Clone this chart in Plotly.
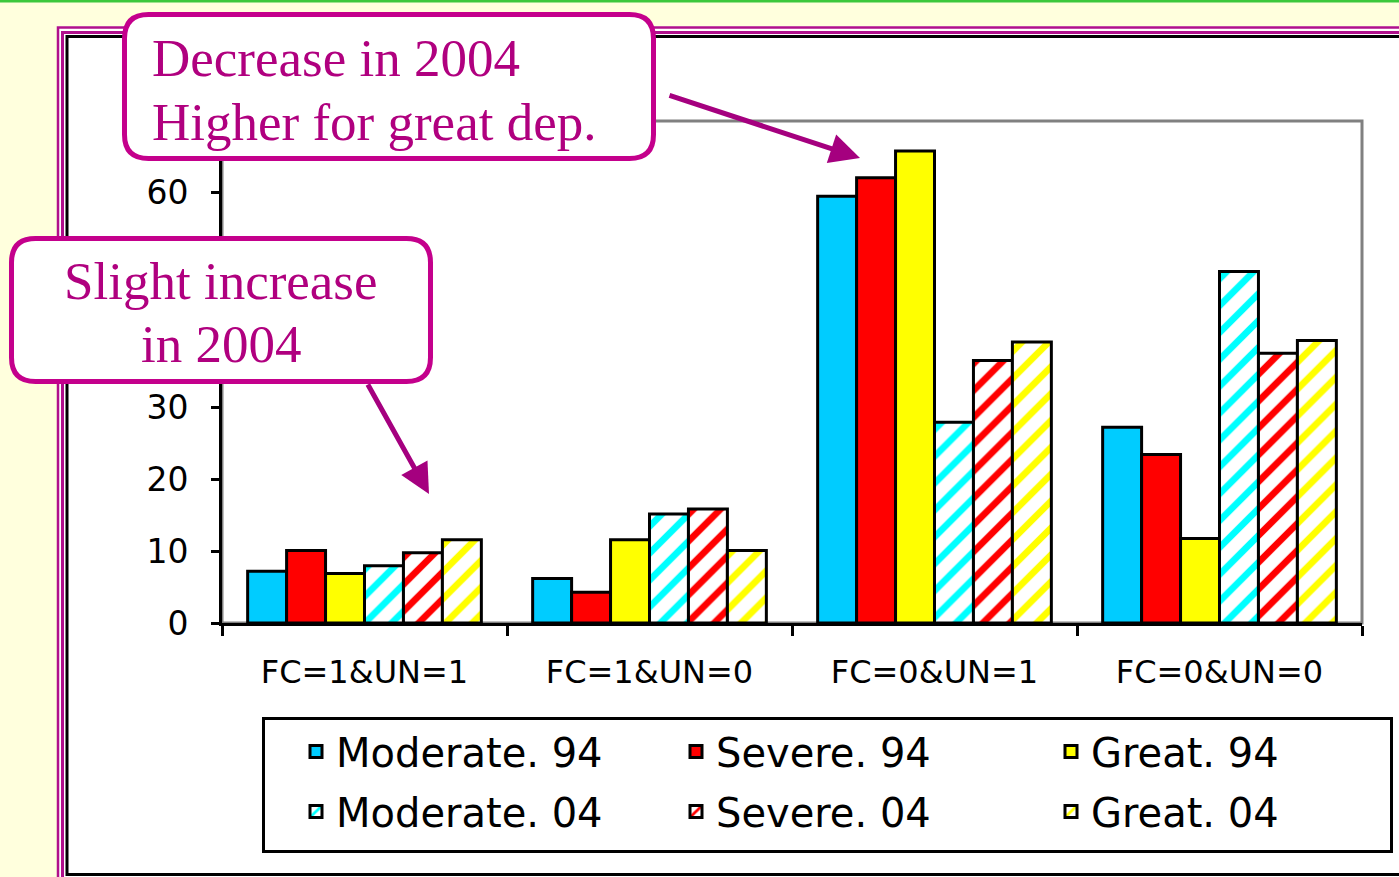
import plotly.graph_objects as go

# ---------------- data ----------------
categories = ["FC=1&UN=1", "FC=1&UN=0", "FC=0&UN=1", "FC=0&UN=0"]
moderate_94 = [7.2, 6.2, 59.5, 27.3]
severe_94 = [10.1, 4.3, 62.1, 23.5]
great_94 = [6.9, 11.6, 65.8, 11.8]
moderate_04 = [8.0, 15.2, 28.0, 49.0]
severe_04 = [9.8, 15.9, 36.6, 37.6]
great_04 = [11.6, 10.1, 39.2, 39.4]
series_names = ["Moderate. 94", "Severe. 94", "Great. 94",
                "Moderate. 04", "Severe. 04", "Great. 04"]
y_ticks = [0, 10, 20, 30, 40, 50, 60, 70]
y_tick_text = ["0", "10", "20", "30", "", "", "60", ""]  # others hidden behind callouts

# ---------------- geometry helpers (pixel -> paper) ----------------
W, H = 1399, 877
L, R, T, B = 222, 1362, 121, 623


def X(px):
    return (px - L) / (R - L)


def Y(py):
    return (B - py) / (B - T)


def rrect(x0, y0, x1, y1, r):
    pts = [
        ("M", [(x0 + r, y0)]), ("L", [(x1 - r, y0)]), ("Q", [(x1, y0), (x1, y0 + r)]),
        ("L", [(x1, y1 - r)]), ("Q", [(x1, y1), (x1 - r, y1)]),
        ("L", [(x0 + r, y1)]), ("Q", [(x0, y1), (x0, y1 - r)]),
        ("L", [(x0, y0 + r)]), ("Q", [(x0, y0), (x0 + r, y0)]),
    ]
    s = ""
    for cmd, ps in pts:
        s += cmd + " ".join(f"{X(a):.5f},{Y(b):.5f}" for a, b in ps) + " "
    return s + "Z"


fig = go.Figure()

solid_colors = ["#00CCFF", "#FF0000", "#FFFF00"]
hatch_colors = ["#00FFFF", "#FF0000", "#FFFF00"]
solid_vals = [moderate_94, severe_94, great_94]
hatch_vals = [moderate_04, severe_04, great_04]
legend_ids = ["legend", "legend2", "legend3"]

for i, (name, vals, col) in enumerate(zip(series_names[:3], solid_vals, solid_colors)):
    fig.add_trace(go.Bar(
        x=categories, y=vals, name=name, legend=legend_ids[i], legendgroup=name,
        legendrank=1,
        marker=dict(color=col, line=dict(color="black", width=3)),
    ))
for i, (name, vals, col) in enumerate(zip(series_names[3:], hatch_vals, hatch_colors)):
    fig.add_trace(go.Bar(
        x=categories, y=vals, name=name, legend=legend_ids[i], legendgroup=name,
        legendrank=2,
        marker=dict(color=col, line=dict(color="black", width=3),
                    pattern=dict(shape="/", fgcolor=col, bgcolor="white",
                                 size=19, solidity=0.35, fillmode="replace")),
    ))

magenta = "#C4008C"
text_mag = "#B0007F"
arrow_mag = "#A5007F"

shapes = [
    # white slide area
    dict(type="rect", xref="paper", yref="paper", x0=X(57), x1=X(1450), y0=Y(26), y1=Y(950),
         fillcolor="white", line=dict(width=0), layer="below"),
    # magenta double frame
    dict(type="rect", xref="paper", yref="paper", x0=X(58), x1=X(1450), y0=Y(27.5), y1=Y(950),
         fillcolor="rgba(0,0,0,0)", line=dict(color="#B0108C", width=2.5), layer="below"),
    dict(type="rect", xref="paper", yref="paper", x0=X(62.5), x1=X(1450), y0=Y(32.5), y1=Y(950),
         fillcolor="rgba(0,0,0,0)", line=dict(color="#B0108C", width=3), layer="below"),
    # black inner frame
    dict(type="rect", xref="paper", yref="paper", x0=X(67), x1=X(1450), y0=Y(36.5), y1=Y(874.5),
         fillcolor="rgba(0,0,0,0)", line=dict(color="black", width=3), layer="below"),
    # green top line
    dict(type="rect", xref="paper", yref="paper", x0=X(-10), x1=X(1450), y0=Y(-5), y1=Y(2.5),
         fillcolor="#3CC83C", line=dict(width=0), layer="below"),
    # gray plot frame
    dict(type="rect", xref="paper", yref="paper", x0=0, x1=1, y0=0, y1=1,
         fillcolor="white", line=dict(color="#808080", width=3), layer="below"),
    # legend box
    dict(type="rect", xref="paper", yref="paper", x0=X(263.5), x1=X(1391.5),
         y0=Y(718.5), y1=Y(851.5),
         fillcolor="white", line=dict(color="black", width=3), layer="above"),
    # callout boxes
    dict(type="path", xref="paper", yref="paper", path=rrect(124.5, 14.5, 653.5, 158.5, 24),
         fillcolor="white", line=dict(color=magenta, width=5), layer="above"),
    dict(type="path", xref="paper", yref="paper", path=rrect(11.5, 238.5, 430.5, 381.5, 24),
         fillcolor="white", line=dict(color=magenta, width=5), layer="above"),
]

serif = "Liberation Serif, Times New Roman, serif"
annotations = [
    dict(xref="paper", yref="paper", x=X(150), y=Y(58), text="Decrease in 2004",
         xanchor="left", yanchor="middle", showarrow=False,
         font=dict(family=serif, size=53, color=text_mag)),
    dict(xref="paper", yref="paper", x=X(150), y=Y(122), text="Higher for great dep.",
         xanchor="left", yanchor="middle", showarrow=False,
         font=dict(family=serif, size=53, color=text_mag)),
    dict(xref="paper", yref="paper", x=X(221), y=Y(281), text="Slight increase",
         xanchor="center", yanchor="middle", showarrow=False,
         font=dict(family=serif, size=53, color=text_mag)),
    dict(xref="paper", yref="paper", x=X(221), y=Y(344), text="in 2004",
         xanchor="center", yanchor="middle", showarrow=False,
         font=dict(family=serif, size=53, color=text_mag)),
    # arrows
    dict(xref="paper", yref="paper", x=X(860), y=Y(158), ax=668 - 860, ay=95 - 158,
         text="", showarrow=True, arrowhead=2, arrowsize=1.2, arrowwidth=5,
         arrowcolor=arrow_mag, standoff=0),
    dict(xref="paper", yref="paper", x=X(429), y=Y(494), ax=367 - 429, ay=383 - 494,
         text="", showarrow=True, arrowhead=2, arrowsize=1.2, arrowwidth=5,
         arrowcolor=arrow_mag, standoff=0),
]

sans = "DejaVu Sans, Arial, sans-serif"


def legend_at(px):
    return dict(
        orientation="v", x=X(px), y=Y(719), xanchor="left", yanchor="top",
        bgcolor="rgba(0,0,0,0)", borderwidth=0, tracegroupgap=5,
        font=dict(family=sans, size=40, color="black"), traceorder="grouped",
    )


fig.update_layout(
    width=W, height=H,
    margin=dict(l=L, r=W - R, t=T, b=H - B, autoexpand=False),
    paper_bgcolor="#FFFFDD",
    plot_bgcolor="white",
    barmode="group",
    bargap=0.18,
    bargroupgap=0,
    shapes=shapes,
    annotations=annotations,
    showlegend=True,
    legend=legend_at(296),
    legend2=legend_at(676),
    legend3=legend_at(1051),
    xaxis=dict(
        type="category", tickson="boundaries", ticks="outside", ticklen=10,
        tickwidth=3, tickcolor="black", showline=True, linecolor="black",
        linewidth=3, showgrid=False, ticklabelstandoff=19,
        tickfont=dict(family=sans, size=32, color="black"),
    ),
    yaxis=dict(
        range=[0, 70], tickvals=y_ticks, ticktext=y_tick_text, ticks="outside", ticklen=8,
        tickwidth=3, tickcolor="black", showline=True, linecolor="black",
        linewidth=3, showgrid=False, zeroline=False, ticklabelstandoff=16,
        tickfont=dict(family=sans, size=33, color="black"),
    ),
)

fig.write_html("out.html")
